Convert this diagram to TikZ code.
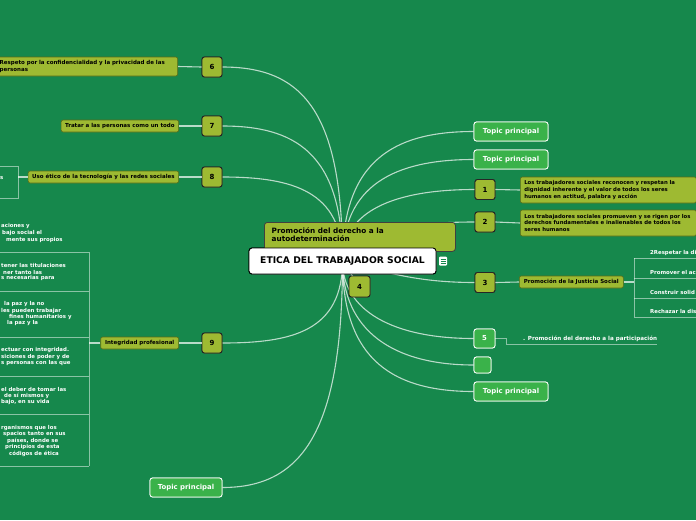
\documentclass[tikz,border=0pt]{standalone}
\usepackage{fontspec}
\setmainfont{DejaVu Sans}
\definecolor{bg}{RGB}{22,136,76}
\definecolor{lime}{RGB}{158,186,50}
\definecolor{limeb}{RGB}{88,108,24}
\definecolor{topicg}{RGB}{58,178,74}
\begin{document}
\begin{tikzpicture}[x=1pt,y=-1pt,
 conn/.style={draw=white,draw opacity=0.7,line width=1.1},
 thinl/.style={draw=white,draw opacity=0.5,line width=0.8},
 lbl/.style={fill=lime,draw=limeb,line width=0.6,rounded corners=2,font=\bfseries\fontsize{5.5}{6.6}\selectfont,text=black,align=left,inner ysep=0pt,inner xsep=4pt,minimum height=12},
 num/.style={fill=lime,draw=black!85,line width=0.9,rounded corners=2.5,minimum width=20,minimum height=20,font=\bfseries\fontsize{7}{8}\selectfont,inner sep=0},
 topic/.style={fill=topicg,draw=white,line width=0.8,rounded corners=2.5,text=white,font=\bfseries\fontsize{6.9}{8}\selectfont,minimum width=74,minimum height=19,inner sep=0},
 wt/.style={text=white,font=\bfseries\fontsize{5.4}{6}\selectfont,anchor=west,inner sep=0},
 rootst/.style={fill=white,draw=black,line width=0.9,rounded corners=3,minimum width=187,minimum height=26,inner sep=0,font=\bfseries\fontsize{9.2}{10}\selectfont}
]
\fill[bg] (0,0) rectangle (696,520);
\useasboundingbox (0,0) rectangle (696,520);

% nodes
\node[rootst] (root) at (342.5,261) {ETICA DEL TRABAJADOR SOCIAL};
\node[num] (n6) at (212,67) {6};
\node[num] (n7) at (212,126) {7};
\node[num] (n8) at (212,177) {8};
\node[num] (n9) at (212,343) {9};
\node[num] (n1) at (485,189.5) {1};
\node[num] (n2) at (485,222) {2};
\node[num] (n3) at (485,282.5) {3};
\node[num,minimum width=21,minimum height=21] (n4) at (359.5,286.5) {4};
\node[topic,minimum width=21] (n5) at (484.5,338.5) {5};
\node[topic,minimum width=17,minimum height=16] (ne) at (482.5,365) {};
\node[topic] (t1) at (511,131.5) {Topic principal};
\node[topic] (t2) at (511,159.5) {Topic principal};
\node[topic] (t3) at (511,391.5) {Topic principal};
\node[topic,minimum width=72] (t4) at (186,487.5) {Topic principal};

% curved connectors
\path[conn] (root.center) .. controls +(0,-150) and +(80,0) .. (n6.east);
\path[conn] (root.center) .. controls +(0,-110) and +(70,0) .. (n7.east);
\path[conn] (root.center) .. controls +(0,-70) and +(70,0) .. (n8.east);
\path[conn] (root.center) .. controls +(0,70) and +(70,0) .. (n9.east);
\path[conn] (root.center) .. controls +(0,170) and +(80,0) .. (t4.east);
\path[conn] (root.center) .. controls +(0,-100) and +(-80,0) .. (t1.west);
\path[conn] (root.center) .. controls +(0,-75) and +(-80,0) .. (t2.west);
\path[conn] (root.center) .. controls +(0,-50) and +(-80,0) .. (n1.west);
\path[conn] (root.center) .. controls +(0,-25) and +(-80,0) .. (n2.west);
\path[conn] (root.center) .. controls +(40,10) and +(-60,0) .. (n3.west);
\path[conn] (root.center) .. controls +(0,50) and +(-80,0) .. (n5.west);
\path[conn] (root.center) .. controls +(0,70) and +(-80,0) .. (ne.west);
\path[conn] (root.center) .. controls +(0,90) and +(-90,0) .. (t3.west);
\path[conn] (root.center) -- (n4.center);

% redraw nodes over connectors
\node[num] at (n6) {6};
\node[num] at (n7) {7};
\node[num] at (n8) {8};
\node[num] at (n9) {9};
\node[num] at (n1) {1};
\node[num] at (n2) {2};
\node[num] at (n3) {3};
\node[num,minimum width=21,minimum height=21] at (n4) {4};
\node[topic,minimum width=21] at (n5) {5};
\node[topic,minimum width=17,minimum height=16] at (ne) {};
\node[topic] at (t1) {Topic principal};
\node[topic] at (t2) {Topic principal};
\node[topic] at (t3) {Topic principal};
\node[topic,minimum width=72] at (t4) {Topic principal};

% autodeterminacion box behind root
\node[fill=lime,draw=black!75,line width=0.8,rounded corners=3,minimum width=191,minimum height=29,inner sep=0,anchor=north west] (auto) at (264,222) {};
\node[anchor=north west,align=left,inner sep=0,font=\bfseries\fontsize{7.3}{8.2}\selectfont] (autot) at (271.5,227.5) {Promoción del derecho a la\\autodeterminación};
\node[rootst] at (root) {ETICA DEL TRABAJADOR SOCIAL};
% notes icon
\node[fill=white,rounded corners=1,minimum width=8,minimum height=9,inner sep=0] (icon) at (443,261) {};
\foreach \yy in {258.8,261,263.2} \draw[bg,line width=0.6] (440.5,\yy) -- (445.5,\yy);

% labels
\node[lbl,anchor=east,text width=174,minimum height=19] (l6) at (178,66.5) {Respeto por la confidencialidad y la privacidad de las\\personas};
\node[lbl,anchor=east,minimum width=117] (l7) at (179,126) {Tratar a las personas como un todo};
\node[lbl,anchor=east,minimum width=149] (l8) at (179,177) {Uso ético de la tecnología y las redes sociales};
\node[lbl,anchor=east,minimum width=78] (l9) at (179,343) {Integridad profesional};
\node[lbl,anchor=west,minimum width=104] (l3) at (519,282) {Promoción de la Justicia Social};
\node[lbl,anchor=west,text width=168,minimum height=26,font=\bfseries\fontsize{5.35}{6.6}\selectfont] (l1) at (520,190) {Los trabajadores sociales reconocen y respetan la\\dignidad inherente y el valor de todos los seres\\humanos en actitud, palabra y acción};
\node[lbl,anchor=west,text width=168,minimum height=26,font=\bfseries\fontsize{5.35}{6.6}\selectfont] (l2) at (520,223) {Los trabajadores sociales promueven y se rigen por los\\derechos fundamentales e inalienables de todos los\\seres humanos};

\draw[conn] (n6.west) -- (l6.east);
\draw[conn] (n7.west) -- (l7.east);
\draw[conn] (n8.west) -- (l8.east);
\draw[conn] (n9.west) -- (l9.east);
\draw[conn] (n1.east) -- (l1.west);
\draw[conn] (n2.east) -- (l2.west);
\draw[conn] (n3.east) -- (l3.west);

% left "s" subtopic
\coordinate (s8) at (18,177);
\draw[conn] (l8.west) -- (s8);
\draw[thinl] (0,166) -- (18,166) -- (18,198) -- (0,198);
\node[wt] (s8t) at (0,178) {s};

% left stacked subtopics of 9
\coordinate (b9) at (89,343);
\draw[conn] (l9.west) -- (b9);
\draw[thinl] (89,252) -- (89,466);
\foreach \yy in {252,291,337,376,414,466} \draw[thinl] (0,\yy) -- (89,\yy);
\node[wt] at (1,226) {aciones y};
\node[wt] at (2,233) {bajo social el};
\node[wt] at (6,240) {mente sus propios};
\node[wt] at (1,265) {tener las titulaciones};
\node[wt] at (3,272) {ner tanto las};
\node[wt] at (1,278) {s necesarias para};
\node[wt] at (4,304) {la paz y la no};
\node[wt] at (1,311) {les pueden trabajar};
\node[wt] at (9,317) {fines humanitarios y};
\node[wt] at (7,323.5) {la paz y la};
\node[wt] at (1,350) {ectuar con integridad.};
\node[wt] at (1,357) {siciones de poder y de};
\node[wt] at (1,363.5) {s personas con las que};
\node[wt] at (1,389) {el deber de tomar las};
\node[wt] at (4,395.5) {de sí mismos y};
\node[wt] at (1,402) {bajo, en su vida};
\node[wt] at (1,428) {rganismos que los};
\node[wt] at (3,434.5) {spacios tanto en sus};
\node[wt] at (7,441) {países, donde se};
\node[wt] at (5,447.5) {principios de esta};
\node[wt] at (9,454) {códigos de ética};

% right subtopics of 3
\coordinate (b3) at (634,282);
\draw[conn] (l3.east) -- (b3);
\draw[thinl] (634,258) -- (634,317);
\foreach \yy in {258,278,298,317} \draw[thinl] (634,\yy) -- (696,\yy);
\node[wt] at (650,253) {2Respetar la di};
\node[wt] at (650,272.5) {Promover el ac};
\node[wt] at (650,292) {Construir solid};
\node[wt] at (650,311) {Rechazar la dis};

% node 5 subtopic
\coordinate (p5a) at (506,338.5);
\coordinate (p5b) at (506,344);
\coordinate (p5c) at (657,344);
\draw[thinl] (n5.east) -- (p5a) -- (p5b) -- (p5c);
\node[wt,font=\bfseries\fontsize{5.6}{6}\selectfont] (p5t) at (523,339) {. Promoción del derecho a la participación};
\end{tikzpicture}
\end{document}
